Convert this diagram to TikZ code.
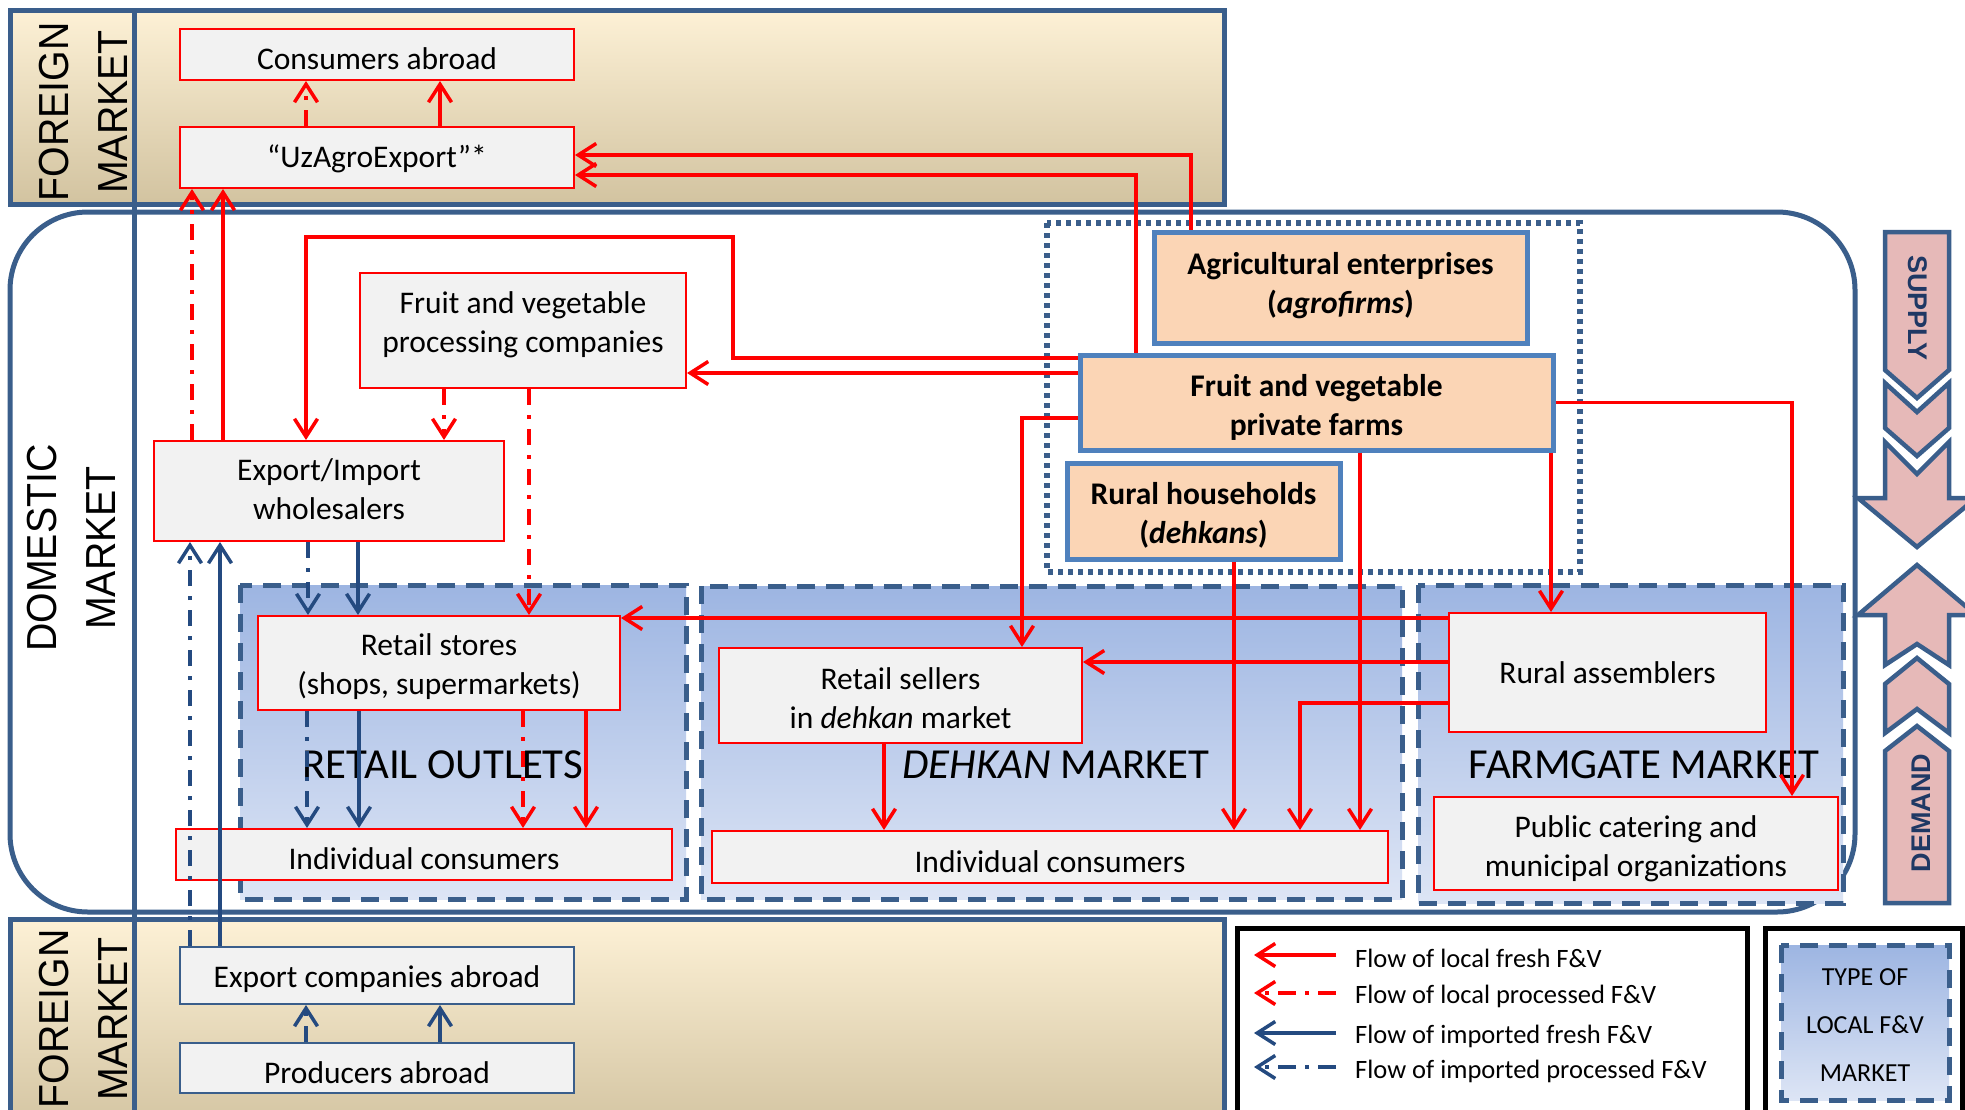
\documentclass[tikz,border=0pt]{standalone}
\usepackage{fontspec}
\setmainfont{Carlito}
\newfontfamily\arialf{Liberation Sans}
\usetikzlibrary{arrows.meta}
\definecolor{boxgray}{RGB}{242,242,242}
\definecolor{peach}{RGB}{251,213,181}
\definecolor{prodblue}{RGB}{79,129,189}
\definecolor{darkblue}{RGB}{58,94,139}
\definecolor{arrblue}{RGB}{36,74,128}
\definecolor{mktop}{RGB}{157,181,226}
\definecolor{mkbot}{RGB}{221,229,245}
\definecolor{fgtop}{RGB}{253,241,214}
\definecolor{fgbot}{RGB}{210,195,160}
\definecolor{sdfill}{RGB}{230,185,184}
\definecolor{sdtext}{RGB}{31,56,100}
\newcommand\myNodeFont{\fontsize{31.5}{39}\selectfont}
\newcommand\myMkFont{\fontsize{42.8}{50}\selectfont}
\newcommand\myLegFont{\fontsize{26.5}{32}\selectfont}
\begin{document}
\begin{tikzpicture}[x=1pt,y=-1pt,
  graybox/.style={draw=red, line width=2pt, fill=boxgray, inner sep=0pt},
  abroadbox/.style={graybox, draw=darkblue},
  peachbox/.style={draw=prodblue, line width=5pt, fill=peach, inner sep=0pt},
  bt/.style={font=\myNodeFont, align=center, inner sep=0pt},
  btb/.style={font=\myNodeFont\bfseries, align=center, inner sep=0pt},
  frame/.style={draw=darkblue, line width=5pt},
  mkbox/.style={draw=darkblue, line width=5pt, dash pattern=on 18pt off 11pt, top color=mktop, bottom color=mkbot},
  mklabel/.style={font=\myMkFont, anchor=base, inner sep=0pt},
  redarr/.style={draw=red, line width=3.5pt, -{Straight Barb[length=18pt,width=23pt]}},
  reddd/.style={redarr, dash pattern=on 16pt off 10pt on 4pt off 10pt},
  bluearr/.style={draw=arrblue, line width=3.5pt, -{Straight Barb[length=18pt,width=23pt]}},
  bluedd/.style={bluearr, dash pattern=on 16pt off 10pt on 4pt off 10pt},
  sdshape/.style={draw=darkblue, line width=4.5pt, fill=sdfill, line join=miter},
  sdlabel/.style={font=\arialf\bfseries\fontsize{27}{30}\selectfont, text=sdtext, inner sep=0pt},
  sidelabel/.style={font=\arialf\fontsize{42}{59}\selectfont, align=center, inner sep=0pt, rotate=90},
  legtext/.style={font=\myLegFont, anchor=base west, inner sep=0pt},
  legbox/.style={draw=black, line width=5pt}
]
\useasboundingbox (0,0) rectangle (1965,1109);
\clip (0,0) rectangle (1965,1109);
\fill[white] (0,0) rectangle (1965,1109);

% market frames
\draw[frame, top color=fgtop, bottom color=fgbot] (10,10) rectangle (1224,204);
\draw[frame, top color=fgtop, bottom color=fgbot] (10,919) rectangle (1224,1135);
\draw[frame, rounded corners=78pt] (10,212) rectangle (1855,912);
\draw[frame] (134,10) -- (134,1120);

\node[sidelabel] (fortop) at (83,112) {\scalebox{0.935}[1]{FOREIGN}\\\scalebox{0.935}[1]{MARKET}};
\node[sidelabel] (domlbl) at (71,548) {\scalebox{0.935}[1]{DOMESTIC}\\\scalebox{0.935}[1]{MARKET}};
\node[sidelabel] (forbot) at (83,1019) {\scalebox{0.935}[1]{FOREIGN}\\\scalebox{0.935}[1]{MARKET}};

% local market types
\draw[mkbox] (240,585) rectangle (686,899);
\draw[mkbox] (701,586) rectangle (1402,899);
\draw[mkbox] (1418,585) rectangle (1843,903);
\draw[darkblue, line width=5.5pt, dash pattern=on 5pt off 5pt] (1047,223) rectangle (1580,572);

\node[mklabel] (lblro) at (443,778) {RETAIL OUTLETS};
\node[mklabel] (lbldm) at (1056,778) {\textit{DEHKAN} MARKET};
\node[mklabel] (lblfm) at (1644,778) {FARMGATE MARKET};

% nodes
\node[graybox, minimum width=394pt, minimum height=51pt, label={[bt, yshift=-4.5pt]center:{Consumers abroad}}] (cons) at (377,54.5) {};
\node[graybox, minimum width=394pt, minimum height=61pt, label={[bt, yshift=-1.5pt]center:{“UzAgroExport”*}}] (uzagro) at (377,157.5) {};
\node[peachbox, minimum width=373pt, minimum height=111pt, label={[btb, yshift=2pt]center:{Agricultural enterprises\\(\textit{agrofirms})}}] (agro) at (1340.5,287.5) {};
\node[peachbox, minimum width=473pt, minimum height=95pt, label={[btb, yshift=-4.5pt]center:{Fruit and vegetable\\private farms}}] (farms) at (1316.5,402.5) {};
\node[peachbox, minimum width=273pt, minimum height=96pt, label={[btb, yshift=-4pt]center:{Rural households\\(\textit{dehkans})}}] (rh) at (1203.5,511) {};
\node[graybox, minimum width=326pt, minimum height=115pt, label={[bt, yshift=5.5pt]center:{Fruit and vegetable\\processing companies}}] (proc) at (523,330.5) {};
\node[graybox, minimum width=350pt, minimum height=100pt, label={[bt, yshift=2pt]center:{Export/Import\\wholesalers}}] (whole) at (329,491) {};
\node[graybox, minimum width=362pt, minimum height=94pt, label={[bt, yshift=-4pt]center:{Retail stores\\(shops, supermarkets)}}] (rstore) at (439,663) {};
\node[graybox, minimum width=496pt, minimum height=51pt, label={[bt, yshift=-4.5pt]center:{Individual consumers}}] (consl) at (424,854.5) {};
\node[graybox, minimum width=363pt, minimum height=95pt, label={[bt, yshift=-2.5pt]center:{Retail sellers\\in \textit{dehkan} market}}] (rsell) at (900.5,695.5) {};
\node[graybox, minimum width=676pt, minimum height=52pt, label={[bt, yshift=-4.5pt]center:{Individual consumers}}] (consm) at (1050,857) {};
\node[graybox, minimum width=317pt, minimum height=119pt, label={[bt]center:{Rural assemblers}}] (rass) at (1607.5,672.5) {};
\node[graybox, minimum width=404pt, minimum height=93pt, label={[bt, yshift=-5pt]center:{Public catering and\\municipal organizations}}] (pub) at (1636,843.5) {};
\node[abroadbox, minimum width=394pt, minimum height=57pt, label={[bt, yshift=-3.5pt]center:{Export companies abroad}}] (expc) at (377,975.5) {};
\node[abroadbox, minimum width=394pt, minimum height=50pt, label={[bt, yshift=-4.5pt]center:{Producers abroad}}] (prod) at (377,1068) {};

% connectors
\draw[redarr] ([xshift=-149.5pt]agro.north) |- ([yshift=2.5pt]uzagro.east);
\draw[redarr] ([xshift=-180.5pt]farms.north) |- ([yshift=-17.5pt]uzagro.east);
\coordinate (c1) at ([xshift=-106pt]whole.north);
\draw[redarr] (c1) -- (c1 |- uzagro.south);
\coordinate (c2) at ([xshift=-137pt]whole.north);
\draw[reddd] (c2) -- (c2 |- uzagro.south);
\coordinate (v1) at ([xshift=-71pt]uzagro.north);
\draw[reddd] (v1) -- (v1 |- cons.south);
\coordinate (v2) at ([xshift=63pt]uzagro.north);
\draw[redarr] (v2) -- (v2 |- cons.south);
\coordinate (dbend) at (733,237);
\draw[redarr] ([yshift=44.5pt]farms.west) -| (dbend) -| ([xshift=-23pt]whole.north);
\coordinate (e0) at ([yshift=29.5pt]farms.west);
\draw[redarr] (e0) -- (e0 -| proc.east);
\draw[redarr] ([yshift=-15.5pt]farms.west) -| ([xshift=121.5pt]rsell.north);
\coordinate (g0) at ([xshift=30.5pt]rh.south);
\draw[redarr] (g0) -- (g0 |- consm.north);
\coordinate (h0) at ([xshift=43.5pt]farms.south);
\draw[redarr] (h0) -- (h0 |- consm.north);
\coordinate (i0) at ([xshift=234.5pt]farms.south);
\draw[redarr] (i0) -- (i0 |- rass.north);
\draw[redarr] (farms.east) -| ([xshift=156pt]pub.north);
\coordinate (k0) at ([yshift=54.5pt]rass.west);
\draw[redarr] (k0) -- (k0 -| rstore.east);
\coordinate (l0) at ([yshift=10.5pt]rass.west);
\draw[redarr] (l0) -- (l0 -| rsell.east);
\draw[redarr] ([yshift=-30.5pt]rass.west) -| ([xshift=250pt]consm.north);
\coordinate (n0) at ([xshift=-16.5pt]rsell.south);
\draw[redarr] (n0) -- (n0 |- consm.north);
\coordinate (o1) at ([xshift=147pt]rstore.south);
\draw[redarr] (o1) -- (o1 |- consl.north);
\coordinate (o2) at ([xshift=84pt]rstore.south);
\draw[reddd] (o2) -- (o2 |- consl.north);
\coordinate (o3) at ([xshift=-132pt]rstore.south);
\draw[bluedd] (o3) -- (o3 |- consl.north);
\coordinate (o4) at ([xshift=-80pt]rstore.south);
\draw[bluearr] (o4) -- (o4 |- consl.north);
\coordinate (p0) at ([xshift=-79pt]proc.south);
\draw[reddd] (p0) -- (p0 |- whole.north);
\coordinate (q0) at ([xshift=6pt]proc.south);
\draw[reddd] (q0) -- (q0 |- rstore.north);
\coordinate (r1) at ([xshift=-21pt]whole.south);
\draw[bluedd] (r1) -- (r1 |- rstore.north);
\coordinate (r2) at ([xshift=29pt]whole.south);
\draw[bluearr] (r2) -- (r2 |- rstore.north);
\coordinate (t1) at ([xshift=-187pt]expc.north);
\draw[bluedd] (t1) -- (t1 |- whole.south);
\coordinate (t2) at ([xshift=-157pt]expc.north);
\draw[bluearr] (t2) -- (t2 |- whole.south);
\coordinate (u1) at ([xshift=-71pt]prod.north);
\draw[bluedd] (u1) -- (u1 |- expc.south);
\coordinate (u2) at ([xshift=63pt]prod.north);
\draw[bluearr] (u2) -- (u2 |- expc.south);

% supply / demand
\draw[sdshape] (1885,232) -- (1949,232) -- (1949,370) -- (1917,398) -- (1885,370) -- cycle;
\draw[sdshape] (1885,383) -- (1917,412) -- (1949,383) -- (1949,428) -- (1917,456) -- (1885,428) -- cycle;
\draw[sdshape] (1885,442) -- (1917,474) -- (1949,442) -- (1949,498) -- (1976,498) -- (1917,547) -- (1858,498) -- (1885,498) -- cycle;
\draw[sdshape] (1917,565) -- (1976,615) -- (1949,615) -- (1949,665) -- (1917,644) -- (1885,665) -- (1885,615) -- (1858,615) -- cycle;
\draw[sdshape] (1917,658) -- (1949,684) -- (1949,733) -- (1917,709) -- (1885,733) -- (1885,684) -- cycle;
\draw[sdshape] (1917,726) -- (1949,751) -- (1949,903) -- (1885,903) -- (1885,751) -- cycle;
\node[sdlabel, rotate=-90] (suptxt) at (1918,308) {SUPPLY};
\node[sdlabel, rotate=90] (demtxt) at (1921,813) {DEMAND};

% legend
\draw[legbox] (1237,928) rectangle (1747,1125);
\draw[legbox] (1765,928) rectangle (1962,1125);
\coordinate (la1) at (1336,955); \coordinate (lb1) at (1254,955);
\coordinate (la2) at (1336,993); \coordinate (lb2) at (1254,993);
\coordinate (la3) at (1336,1033); \coordinate (lb3) at (1254,1033);
\coordinate (la4) at (1336,1067); \coordinate (lb4) at (1254,1067);
\draw[redarr] (la1) -- (lb1);
\draw[reddd, dash pattern=on 18pt off 9pt on 4pt off 9pt] (la2) -- (lb2);
\draw[bluearr] (la3) -- (lb3);
\draw[bluedd, dash pattern=on 18pt off 9pt on 4pt off 9pt] (la4) -- (lb4);
\node[legtext] (lt1) at (1355,967) {Flow of local fresh F\&V};
\node[legtext] (lt2) at (1355,1003) {Flow of local processed F\&V};
\node[legtext] (lt3) at (1355,1043) {Flow of imported fresh F\&V};
\node[legtext] (lt4) at (1355,1078) {Flow of imported processed F\&V};
\draw[mkbox] (1781,945) rectangle (1949,1100);
\node[font=\fontsize{26}{48}\selectfont, align=center, inner sep=0pt] (mtype) at (1865,1025) {TYPE OF\\LOCAL F\&V\\MARKET};
\end{tikzpicture}
\end{document}
